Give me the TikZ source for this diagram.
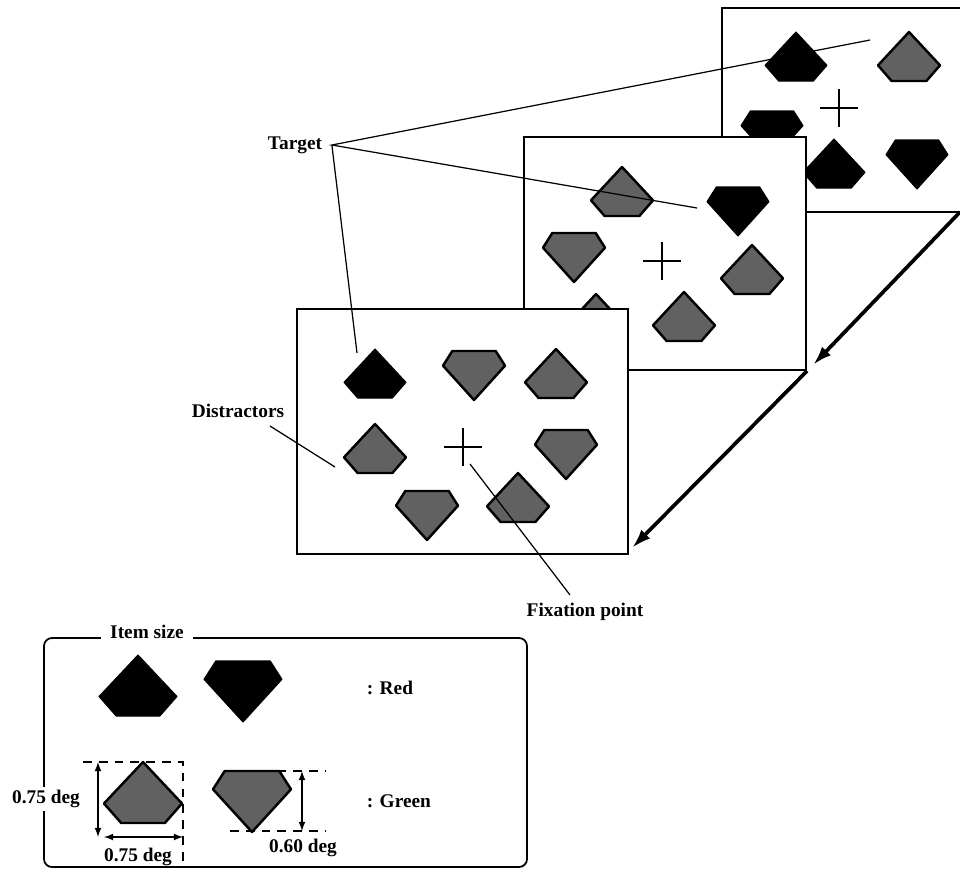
\documentclass[tikz,border=0pt]{standalone}
\usepackage{fontspec}
\setmainfont{Liberation Serif}
\usetikzlibrary{arrows.meta}

\begin{document}
\begin{tikzpicture}[> = latex, x = 0.02cm, y = -0.02cm,
    frame/.style = {draw, fill = white, line width = 1.1pt},
    redItem/.style = {fill = black, draw = black, line width = 0.6pt, line join = round},
    greenItem/.style = {fill = black!62, draw = black, line width = 1.4pt, line join = round},
    callout/.style = {line width = 0.7pt},
    flow/.style = {-{Latex[length = 11pt, width = 7pt]}, line width = 2.1pt},
    dim/.style = {<->, line width = 0.8pt},
    guide/.style = {line width = 0.8pt, dash pattern = on 5pt off 4pt},
    lbl/.style = {font = \fontsize{11}{13}\selectfont\bfseries, inner sep = 2pt}
]

    \useasboundingbox (0, 0) rectangle (960, 870);

    \def\itemW{62}
    \def\itemH{49}
    \def\pent#1#2#3{
        \filldraw [#1] (#2, #3) -- ++({0.5*\itemW}, {0.68*\itemH})
            -- ++({-0.22*\itemW}, {0.32*\itemH}) -- ++({-0.56*\itemW}, 0)
            -- ++({-0.22*\itemW}, {-0.32*\itemH}) -- cycle;
    }
    \def\gem#1#2#3{
        \filldraw [#1] ({#2-0.35*\itemW}, #3) -- ++({0.7*\itemW}, 0)
            -- ++({0.15*\itemW}, {0.3*\itemH}) -- ++({-0.5*\itemW}, {0.7*\itemH})
            -- ++({-0.5*\itemW}, {-0.7*\itemH}) -- cycle;
    }
    \def\fixCross#1#2{
        \draw [line width = 0.7pt] ({#1-19}, #2) -- ({#1+19}, #2) (#1, {#2-19}) -- (#1, {#2+19});
    }

    % Third display (back)
    \draw [frame] (722, 8) rectangle (962, 212);
    \pent{redItem}{796}{32}
    \pent{greenItem}{909}{32}
    \gem{redItem}{772}{111}
    \pent{redItem}{834}{139}
    \gem{redItem}{917}{140}
    \fixCross{839}{108}

    % Second display
    \draw [frame] (524, 137) rectangle (806, 370);
    \foreach \cx/\top in {622/167, 752/245, 684/292, 596/294}{
        \pent{greenItem}{\cx}{\top}
    }
    \gem{greenItem}{574}{233}
    \gem{redItem}{738}{187}
    \fixCross{662}{261}

    % First display (front)
    \draw [frame] (297, 309) rectangle (628, 554);
    \pent{redItem}{375}{349}
    \foreach \cx/\top in {556/349, 375/424, 518/473}{
        \pent{greenItem}{\cx}{\top}
    }
    \foreach \cx/\top in {474/351, 566/430, 427/491}{
        \gem{greenItem}{\cx}{\top}
    }
    \fixCross{463}{447}

    % Sequence of displays
    \coordinate (f3se) at (960, 212);
    \coordinate (f2se) at (807, 371);
    \coordinate (f2tip) at (813, 365);
    \coordinate (f1tip) at (632, 548);
    \draw [flow] (f3se) -- (f2tip);
    \draw [flow] (f2se) -- (f1tip);

    % Labels
    \node [lbl] (target) at (295, 145) {Target};
    \coordinate (hub) at ([xshift = 0.12cm]target.east);
    \coordinate (t1) at (357, 353);
    \coordinate (t2) at (697, 208);
    \coordinate (t3) at (870, 40);
    \draw [callout] (t3) -- (hub) -- (t2) (hub) -- (t1);

    \node [lbl] (distractors) at (238, 411) {Distractors};
    \coordinate (d1) at (270, 426);
    \coordinate (d2) at (335, 467);
    \draw [callout] (d1) -- (d2);

    \node [lbl] (fixation) at (585, 612) {Fixation point};
    \coordinate (x1) at (570, 595);
    \coordinate (x2) at (470, 464);
    \draw [callout] (x1) -- (x2);

    % Item size
    \draw [line width = 1pt, rounded corners = 0.16cm] (44, 638) rectangle (527, 867);
    \node [lbl, fill = white, inner xsep = 5pt] (itemsize) at (147, 632) {Item size};

    \def\itemW{78}
    \def\itemH{61}
    \pent{redItem}{138}{655}
    \gem{redItem}{243}{661}
    \pent{greenItem}{143}{762}
    \gem{greenItem}{252}{771}

    \node [lbl, anchor = west] (red) at (363, 688) {: Red};
    \node [lbl, anchor = west] (green) at (363, 801) {: Green};

    % Dimensions
    \draw [guide] (83, 762) -- (183, 762) -- (183, 862);
    \draw [guide] (230, 771) -- (325, 771) (230, 831) -- (325, 831);
    \draw [dim] (98, 762) -- (98, 837);
    \draw [dim] (104, 837) -- (183, 837);
    \draw [dim] (302, 771) -- (302, 831);
    \node [lbl, fill = white] (dimH) at (46, 799) {0.75 deg};
    \node [lbl] (dimW) at (138, 857) {0.75 deg};
    \node [lbl] (dimG) at (303, 848) {0.60 deg};

\end{tikzpicture}
\end{document}
